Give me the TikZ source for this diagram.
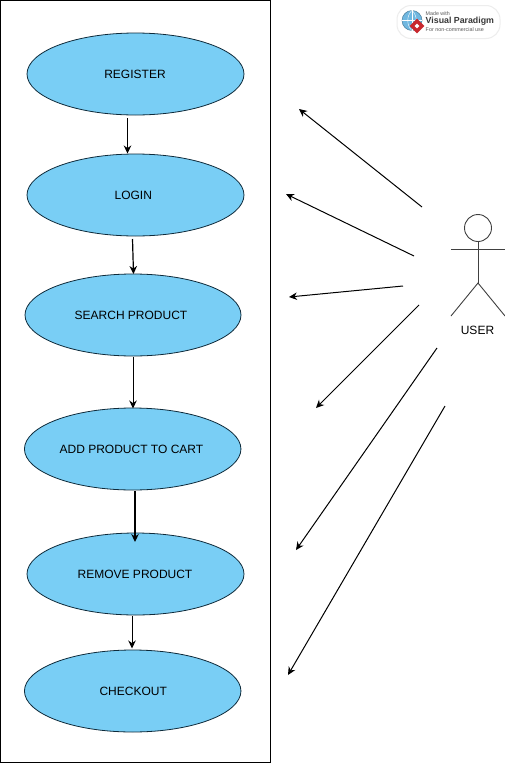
\documentclass[tikz,border=0pt]{standalone}
\usepackage{fontspec}
\setmainfont{Liberation Sans}
\usetikzlibrary{shapes.geometric,arrows.meta}
\definecolor{ucfill}{HTML}{79CEF5}
\definecolor{ucline}{HTML}{0E2A3A}
\definecolor{globeblue}{HTML}{6FB7E0}
\definecolor{gemred}{HTML}{C8282E}
\tikzset{
  usecase/.style={ellipse,draw=ucline,fill=ucfill,line width=0.8pt,minimum width=217pt,minimum height=82pt,inner sep=0pt,font=\fontsize{12}{14}\selectfont},
  flow/.style={draw=black,line width=1pt,-{Stealth[length=8pt,width=7.5pt]}},
  assoc/.style={draw=black,line width=1pt,-{Stealth[length=8pt,width=7.5pt]}},
  figure line/.style={draw=black!75,line width=0.9pt},
  logotext/.style={inner sep=0pt,anchor=west,text=black!65}
}
\begin{document}
\begin{tikzpicture}[x=1pt,y=-1pt]
\useasboundingbox (0,0) rectangle (505,763);
\fill[white] (0,0) rectangle (505,763);
\node[draw=black,line width=1pt,minimum width=270pt,minimum height=762pt,inner sep=0pt] (frame) at (135.4,381.5) {};
% use cases
\node[usecase] (reg) at (135.5,74) {REGISTER\kern1pt};
\node[usecase] (log) at (135.5,195) {LOGIN\kern4.5pt};
\node[usecase,minimum width=216pt] (sea) at (133,315) {SEARCH PRODUCT\kern4pt};
\node[usecase,minimum width=216.5pt] (add) at (132.7,449) {ADD PRODUCT TO CART\kern2.5pt};
\node[usecase] (rem) at (135.5,574) {REMOVE PRODUCT\kern1pt};
\node[usecase,minimum width=216.5pt] (che) at (132.7,691) {CHECKOUT\kern-1pt};
% flow
\coordinate (f1a) at (127.5,118); \coordinate (f1b) at (127.5,153.5);
\coordinate (f2a) at (132.5,239); \coordinate (f2b) at (133.5,274);
\coordinate (f3a) at (133,357); \coordinate (f3b) at (133,408.5);
\coordinate (f4a) at (135,491); \coordinate (f4b) at (135,542);
\coordinate (f5a) at (132,616); \coordinate (f5b) at (132,648.5);
\draw[flow] (f1a) -- (f1b);
\draw[flow,line width=1.2pt] (f2a) -- (f2b);
\draw[flow] (f3a) -- (f3b);
\draw[flow,line width=1.4pt] (f4a) -- (f4b);
\draw[flow] (f5a) -- (f5b);
% actor
\node[circle,draw=black!75,line width=0.9pt,minimum size=27pt,inner sep=0pt] (head) at (478,228) {};
\coordinate (hip) at (478,283);
\coordinate (armL) at (451,249); \coordinate (armR) at (505,249);
\coordinate (legL) at (451,316); \coordinate (legR) at (505,316);
\draw[figure line] (head.south) -- (hip);
\draw[figure line] (armL) -- (armR);
\draw[figure line] (legL) -- (hip) -- (legR);
\node[font=\fontsize{12}{14}\selectfont,inner sep=0pt] (user) at (477.5,330) {USER};
% associations
\coordinate (a1) at (422,207); \coordinate (b1) at (299,109);
\coordinate (a2) at (414,256); \coordinate (b2) at (286,194);
\coordinate (a3) at (403,286); \coordinate (b3) at (289,297);
\coordinate (a4) at (419,305); \coordinate (b4) at (316,408);
\coordinate (a5) at (437,348); \coordinate (b5) at (296,550);
\coordinate (a6) at (445,406); \coordinate (b6) at (288,675);
\draw[assoc] (a1) -- (b1);
\draw[assoc] (a2) -- (b2);
\draw[assoc] (a3) -- (b3);
\draw[assoc] (a4) -- (b4);
\draw[assoc] (a5) -- (b5);
\draw[assoc] (a6) -- (b6);
% logo
\node[draw=black!7,fill=white,line width=1pt,rounded corners=14pt,minimum width=103pt,minimum height=33pt,inner sep=0pt] (logo) at (448.5,22) {};
\node[circle,draw=globeblue!70!black,fill=globeblue,line width=0.5pt,minimum size=20pt,inner sep=0pt] (globe) at (412,20.5) {};
\draw[white,line width=0.5pt] (globe.west) -- (globe.east) (globe.north) -- (globe.south);
\draw[white,line width=0.4pt] (globe.north) to[bend right=45] (globe.south) (globe.north) to[bend left=45] (globe.south);
\node[diamond,fill=gemred,minimum size=15pt,inner sep=0pt] (gem) at (417,26) {};
\node[diamond,fill=white,minimum size=5pt,inner sep=0pt] (gemc) at (417,26) {};
\node[logotext,font=\fontsize{5.3}{6}\selectfont] (lg1) at (425.5,14) {Made with};
\node[logotext,font=\fontsize{8.8}{10}\selectfont\bfseries,text=black!78] (lg2) at (425.5,21.5) {Visual Paradigm};
\node[logotext,font=\fontsize{5.4}{6}\selectfont] (lg3) at (425.5,30) {For non-commercial use};
\end{tikzpicture}
\end{document}
